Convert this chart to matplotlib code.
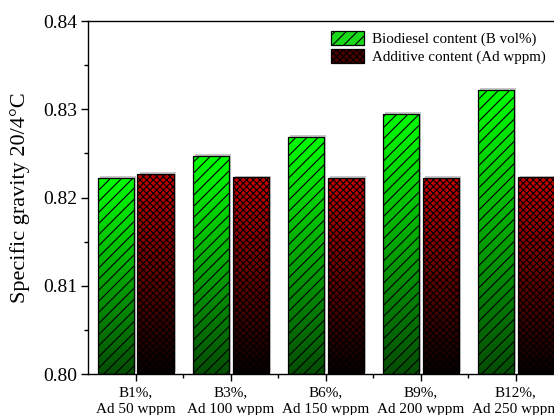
import numpy as np
import matplotlib
matplotlib.use("Agg")
import matplotlib.pyplot as plt
from matplotlib.patches import Rectangle
from matplotlib import patheffects as pe
from matplotlib.colors import LinearSegmentedColormap

plt.rcParams['font.family'] = ['Liberation Serif', 'DejaVu Serif']
plt.rcParams['hatch.linewidth'] = 0.8

categories = ["B1%,\nAd 50 wppm", "B3%,\nAd 100 wppm", "B6%,\nAd 150 wppm",
              "B9%,\nAd 200 wppm", "B12%,\nAd 250 wppm"]
biodiesel = [0.8222, 0.8247, 0.8269, 0.8295, 0.8322]
additive = [0.8227, 0.8223, 0.8222, 0.8222, 0.8223]
series_labels = ["Biodiesel content (B vol%)", "Additive content (Ad wppm)"]

W, H = 554, 415
fig = plt.figure(figsize=(W / 100, H / 100), dpi=100)
ax = fig.add_axes([88 / W, 41 / H, 475.5 / W, 353 / H])

ymin, ymax = 0.80, 0.84
x = np.arange(1, len(categories) + 1)
width = 0.38
offset = 0.21

green_cmap = LinearSegmentedColormap.from_list("g", [(0.02, 0.30, 0.02), (0.0, 1.0, 0.0)])
red_cmap = LinearSegmentedColormap.from_list("r", [(0.03, 0.0, 0.0), (0.78, 0.0, 0.0)])
grad = np.linspace(0, 1, 256).reshape(-1, 1)


def draw_bars(xs, vals, cmap, hatch):
    base = ax.bar(xs, np.array(vals) - ymin, width, bottom=ymin,
                  facecolor='white', edgecolor='none', zorder=2,
                  path_effects=[pe.SimplePatchShadow(offset=(1.5, 1.2),
                                                     shadow_rgbFace='0.78', alpha=1),
                                pe.Normal()])
    for rect in base.patches:
        x0 = rect.get_x()
        x1 = x0 + rect.get_width()
        y0 = rect.get_y()
        y1 = y0 + rect.get_height()
        im = ax.imshow(grad, cmap=cmap, extent=[x0, x1, y0, y1], origin='lower',
                       aspect='auto', zorder=2.5, interpolation='bilinear')
        im.set_clip_path(rect)
    ax.bar(xs, np.array(vals) - ymin, width, bottom=ymin, facecolor='none',
           edgecolor='black', hatch=hatch, linewidth=0.9, zorder=3)


draw_bars(x - offset, biodiesel, green_cmap, '///')
draw_bars(x + offset, additive, red_cmap, 'xxxxx')

ax.set_xlim(0.5, 5.5)
ax.set_ylim(ymin, ymax)
ax.set_xticks(x)
ax.set_xticklabels(categories, fontsize=11, linespacing=1.3)
ax.set_xticks(np.arange(1.5, 5.5, 1), minor=True)
ax.set_yticks([0.80, 0.81, 0.82, 0.83, 0.84])
ax.set_yticklabels(["0.80", "0.81", "0.82", "0.83", "0.84"], fontsize=14)
ax.set_yticks(np.arange(0.805, 0.84, 0.01), minor=True)
ax.tick_params(which='major', direction='out', length=5, width=1.0, pad=3)
ax.tick_params(which='minor', direction='out', length=3, width=1.0)
ax.tick_params(axis='x', which='major', pad=4)
for s in ax.spines.values():
    s.set_linewidth(1.0)
ax.set_ylabel("Specific gravity 20/4°C", fontsize=16, labelpad=9)

handles = [Rectangle((0, 0), 1, 1, facecolor=(0.1, 0.85, 0.1), edgecolor='black',
                     hatch='///', linewidth=0.9),
           Rectangle((0, 0), 1, 1, facecolor=(0.3, 0.0, 0.0), edgecolor='black',
                     hatch='xxxxx', linewidth=0.9)]
fig.legend(handles, series_labels, loc='upper left',
           bbox_to_anchor=(331 / W, 1 - 31 / H), frameon=False, fontsize=10.8,
           handlelength=2.2, handleheight=1.1, handletextpad=0.5,
           labelspacing=0.15, borderpad=0, borderaxespad=0)

fig.savefig("out.png", dpi=100)
